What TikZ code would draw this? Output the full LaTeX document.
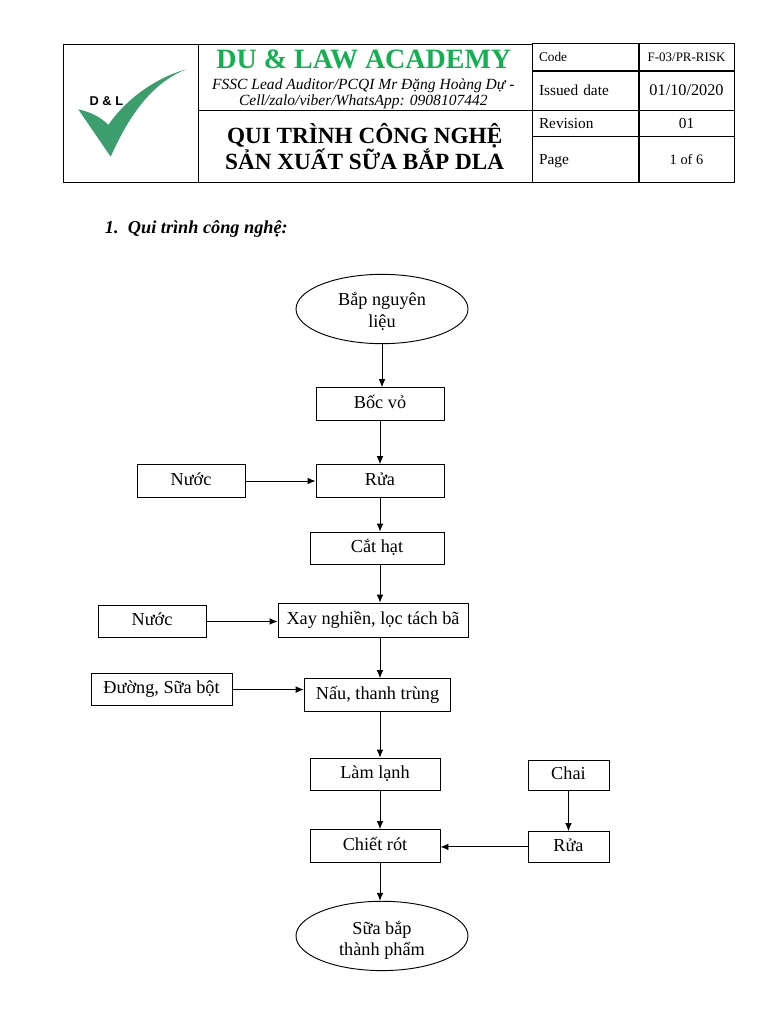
\documentclass[tikz,border=0pt]{standalone}
\usepackage{fontspec}
\setmainfont{Liberation Serif}
\newfontfamily\logofont{Liberation Sans}
\usepackage{xcolor}
\usetikzlibrary{shapes.geometric, arrows.meta, positioning}
\definecolor{brandgreen}{HTML}{12B04F}
\definecolor{checkgreen}{HTML}{3C9E6C}
\tikzstyle{terminal} = [ellipse, inner sep=0pt, minimum width=129pt, minimum height=52pt, align=center, draw=black, line width=0.7pt, font=\fontsize{13.7}{16}\selectfont]
\tikzstyle{process} = [rectangle, minimum height=24.5pt, text height=9pt, text depth=2.8pt, text centered, draw=black, line width=0.7pt, font=\fontsize{13.7}{16}\selectfont]
\tikzstyle{cell} = [rectangle, draw=black, line width=0.7pt, inner sep=0pt, outer sep=0pt, align=center]
\tikzstyle{arrow} = [-{Latex[length=6pt,width=5pt]},line width=0.7pt]

\begin{document}
\begin{tikzpicture}[node distance=60pt]
\useasboundingbox (0,0) rectangle (576pt,-768pt);

% Header
\node (logobox) [cell, minimum width=101.25pt, minimum height=103.5pt] at (97.9pt,-84.75pt) {};
\node (brand) [cell, minimum width=250.5pt, minimum height=49.5pt] at (273.75pt,-57.75pt) {};
\node (brandname) [font=\fontsize{21}{24}\selectfont\bfseries, text=brandgreen, inner sep=0pt] at (272.9pt,-44.5pt) {DU \& LAW ACADEMY};
\node (brandline) [font=\fontsize{11.65}{12}\selectfont\itshape, align=center, inner sep=0pt] at (272.5pt,-70.5pt) {FSSC Lead Auditor/PCQI Mr Đặng Hoàng Dự -\\Cell/zalo/viber/WhatsApp: 0908107442};
\node (title) [cell, minimum width=250.5pt, minimum height=54pt] at (273.75pt,-109.5pt) {};
\node (titletext) [font=\fontsize{17.4}{20}\selectfont\bfseries, align=center, inner sep=0pt] at (273.5pt,-110pt) {QUI TRÌNH CÔNG NGHỆ\\SẢN XUẤT SỮA BẮP DLA};
\tikzstyle{lblcell} = [cell, minimum width=79.5pt, text width=69.5pt, text height=8pt, text depth=0.5pt, align=left, font=\fontsize{11.5}{13}\selectfont]
\tikzstyle{valcell} = [cell, minimum width=71.25pt, text height=8pt, text depth=0.5pt, font=\fontsize{11.5}{13}\selectfont]
\node (codelbl) [lblcell, minimum height=20.25pt, text depth=2.5pt, font=\fontsize{10}{12}\selectfont] at (439pt,-43.1pt) {Code};
\node (datelbl) [lblcell, minimum height=29.25pt] at (439pt,-67.9pt) {Issued date};
\node (revlbl) [lblcell, minimum height=19.5pt] at (439pt,-92.25pt) {Revision};
\node (pagelbl) [lblcell, minimum height=34.5pt] at (439pt,-119.25pt) {Page};
\node (codeval) [valcell, minimum height=20.25pt, text depth=2.5pt, font=\fontsize{9.7}{12}\selectfont] at (514.9pt,-43.1pt) {F-03/PR-RISK};
\node (dateval) [valcell, minimum height=29.25pt, font=\fontsize{12.2}{14}\selectfont] at (514.9pt,-67.9pt) {01/10/2020};
\node (revval) [valcell, minimum height=19.5pt] at (514.9pt,-92.25pt) {01};
\node (pageval) [valcell, minimum height=34.5pt, font=\fontsize{10.8}{13}\selectfont] at (514.9pt,-119.25pt) {1 of 6};

% Logo
\fill [checkgreen] (58.7pt,-82pt) .. controls (68pt,-84pt) and (76pt,-88pt) .. (81.2pt,-93.75pt)
  .. controls (92pt,-78pt) and (112pt,-60pt) .. (139.5pt,-52pt)
  .. controls (115pt,-62pt) and (98pt,-84pt) .. (83pt,-117.5pt) -- cycle;
\node (logotext) [font=\logofont\bfseries\fontsize{9.6}{10}\selectfont] at (79.8pt,-75.5pt) {D \& L};

% Section heading
\node (heading) [anchor=west, inner sep=0pt, font=\fontsize{13.7}{16}\selectfont\bfseries\itshape] at (78.5pt,-172pt) {1.\hspace{7pt}Qui trình công nghệ:};

% Nodes
\node (start) [terminal] at (286.5pt,-231.75pt) {\rule{0pt}{13.7pt}Bắp nguyên\\liệu};
\node (peel) [process, minimum width=96pt, below of=start, node distance=71.25pt, xshift=-1.5pt] {Bốc vỏ};
\node (wash) [process, minimum width=96pt, below of=peel, node distance=57.75pt] {Rửa};
\node (cut) [process, minimum width=100.5pt, below of=wash, node distance=50.6pt, xshift=-2.25pt] {Cắt hạt};
\node (grind) [process, minimum width=142.5pt, minimum height=26pt, below of=cut, node distance=54pt, xshift=-3pt] {Xay nghiền, lọc tách bã};
\node (cook) [process, minimum width=110pt, below of=grind, node distance=55.9pt, xshift=3.4pt] {Nấu, thanh trùng};
\node (cool) [process, minimum width=97.5pt, below of=cook, node distance=59.6pt, xshift=-1.9pt] {Làm lạnh};
\node (fill) [process, minimum width=97.5pt, below of=cool, node distance=53.6pt] {Chiết rót};
\node (end) [terminal, below of=fill, node distance=67.5pt, xshift=5.25pt] {\rule{0pt}{16.5pt}Sữa bắp\\thành phẩm};
\node (water1) [process, minimum width=81pt, left of=wash, node distance=141.75pt] {Nước};
\node (water2) [process, minimum width=81pt, left of=grind, node distance=165.75pt, yshift=-0.75pt] {Nước};
\node (sugar) [process, minimum width=105.75pt, left of=cook, node distance=162pt, yshift=4.1pt] {Đường, Sữa bột};
\node (bottlewash) [process, minimum width=60.75pt, minimum height=23pt, right of=fill, node distance=145.1pt, yshift=-0.75pt] {Rửa};
\node (bottle) [process, minimum width=60.75pt, minimum height=23pt, above of=bottlewash, node distance=53.6pt] {Chai};

% Arrows
\draw [arrow] (start) -- (start |- peel.north);
\draw [arrow] (peel) -- (wash);
\draw [arrow] (wash) -- (wash |- cut.north);
\draw [arrow] (wash |- cut.south) -- (wash |- grind.north);
\draw [arrow] (wash |- grind.south) -- (wash |- cook.north);
\draw [arrow] (wash |- cook.south) -- (wash |- cool.north);
\draw [arrow] (wash |- cool.south) -- (wash |- fill.north);
\draw [arrow] (wash |- fill.south) -- (wash |- end.north);
\draw [arrow] (water1) -- (wash);
\draw [arrow] (water2) -- (water2 -| grind.west);
\draw [arrow] (sugar) -- (sugar -| cook.west);
\draw [arrow] (bottle) -- (bottlewash);
\draw [arrow] (bottlewash) -- (bottlewash -| fill.east);

\end{tikzpicture}
\end{document}
